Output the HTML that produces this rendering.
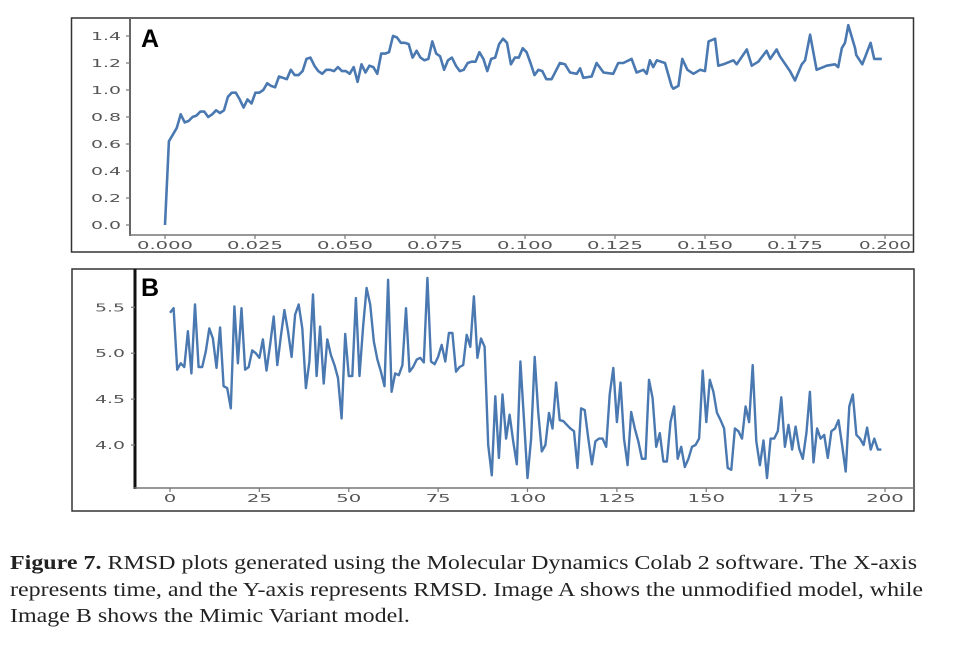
<!DOCTYPE html>
<html><head><meta charset="utf-8">
<style>
html,body{margin:0;padding:0;background:#fff;width:968px;height:666px;overflow:hidden}
#cap{position:absolute;left:10px;top:550px;width:900px;white-space:nowrap;font-family:"Liberation Serif",serif;font-size:20.5px;line-height:26.5px;color:#222;transform:scaleX(1.17);transform-origin:0 0}
</style></head><body>
<svg id="chart" width="968" height="540" style="position:absolute;left:0;top:0" xmlns="http://www.w3.org/2000/svg"></svg>
<div id="cap"><b>Figure 7.</b> RMSD plots generated using the Molecular Dynamics Colab 2 software. The X-axis<br>represents time, and the Y-axis represents RMSD. Image A shows the unmodified model, while<br>Image B shows the Mimic Variant model.</div>
<script>
// Panel A data
const rmsdA1 = [0.0,0.62,0.67,0.72,0.82,0.76,0.77,0.8,0.81,0.84,0.84,0.80,0.82,0.85,0.83,0.85,0.95,0.98,0.98,0.93,0.87,0.93,0.90,0.98,0.98,1.0,1.05,1.03,1.02,1.1,1.09,1.08,1.15,1.11,1.11,1.14,1.23,1.24,1.18,1.14,1.12,1.15,1.15,1.14,1.17,1.14,1.14,1.12,1.17,1.06,1.19,1.13,1.18,1.17,1.12,1.27,1.27,1.28,1.4,1.39,1.35,1.35,1.34,1.24,1.29,1.24,1.22,1.23,1.36,1.27,1.25,1.15,1.22,1.24,1.18,1.14,1.15,1.2,1.21,1.21,1.28,1.23,1.14,1.23,1.24,1.34,1.38,1.35,1.19,1.24,1.24,1.31,1.28,1.2,1.11,1.15,1.14,1.08,1.08];
const timeA1End = 0.107;
const timeA2 = [0.1074,0.1097,0.1111,0.1125,0.1144,0.1153,0.1162,0.1185,0.1199,0.1218,0.1245,0.1259,0.1273,0.1296,0.1310,0.1329,0.1338,0.1347,0.1356,0.1366,0.1389,0.1407,0.1412,0.1426,0.1437,0.1451,0.1468,0.1486,0.1500,0.1510,0.1528,0.1537,0.1551,0.1579,0.1588,0.1616,0.1630,0.1648,0.1671,0.1681,0.1699,0.1708,0.1736,0.1750,0.1769,0.1778,0.1792,0.1810,0.1838,0.1861,0.1870,0.1880,0.1889,0.1898,0.1917,0.1920,0.1937,0.1960,0.1970,0.1991];
const rmsdA2 = [1.08,1.2,1.19,1.13,1.12,1.16,1.09,1.10,1.2,1.13,1.12,1.2,1.20,1.23,1.13,1.15,1.12,1.22,1.17,1.22,1.20,1.03,1.01,1.03,1.23,1.15,1.12,1.15,1.14,1.36,1.38,1.18,1.19,1.22,1.19,1.30,1.18,1.21,1.29,1.23,1.30,1.25,1.14,1.07,1.19,1.22,1.41,1.15,1.18,1.19,1.17,1.31,1.35,1.48,1.31,1.26,1.19,1.35,1.23,1.23];
const ticksAx = [0,0.025,0.05,0.075,0.1,0.125,0.15,0.175,0.2];
const ticksAxLabels = ["0.000","0.025","0.050","0.075","0.100","0.125","0.150","0.175","0.200"];
const ticksAy = [0,0.2,0.4,0.6,0.8,1.0,1.2,1.4];
const ticksAyLabels = ["0.0","0.2","0.4","0.6","0.8","1.0","1.2","1.4"];
// Panel B data
const rmsdB = [5.44,5.49,4.82,4.89,4.85,5.24,4.78,5.53,4.85,4.85,5.02,5.27,5.16,4.84,5.28,4.64,4.62,4.40,5.51,4.89,5.49,4.82,4.85,5.03,5.0,4.95,5.15,4.81,5.09,5.4,4.87,5.18,5.47,5.24,4.96,5.42,5.53,5.27,4.62,4.91,5.64,4.75,5.29,4.67,5.15,4.98,4.87,4.73,4.29,5.21,4.75,4.75,5.6,4.75,5.29,5.71,5.53,5.13,4.93,4.8,4.64,5.8,4.58,4.78,4.76,4.87,5.49,4.8,4.85,4.93,4.95,4.9,5.82,4.91,4.88,4.96,5.09,4.91,5.22,5.22,4.8,4.85,4.87,5.2,5.07,5.62,4.95,5.16,5.07,4.0,3.67,4.53,3.86,4.55,4.07,4.33,4.04,3.79,4.91,4.29,3.64,4.07,4.96,4.36,3.93,4.0,4.35,4.18,4.68,4.27,4.26,4.22,4.18,4.15,3.75,4.4,4.38,4.07,3.79,4.04,4.07,4.07,3.98,4.55,4.84,4.25,4.68,4.07,3.78,4.36,4.18,4.04,3.85,3.85,4.71,4.51,3.98,4.13,3.82,3.82,4.25,4.42,3.85,3.98,3.76,3.85,3.98,4.0,4.07,4.81,4.25,4.71,4.58,4.35,4.27,4.18,3.75,3.73,4.18,4.15,4.07,4.42,4.25,4.87,4.04,3.78,4.05,3.64,4.07,4.07,4.15,4.52,3.98,4.22,3.95,4.2,3.96,3.85,4.13,4.58,3.81,4.18,4.07,4.11,3.86,4.15,4.18,4.27,4.0,3.71,4.42,4.55,4.11,4.07,4.0,4.19,3.95,4.07,3.95,3.95];
const ticksBx = [0,25,50,75,100,125,150,175,200];
const ticksBxLabels = ["0","25","50","75","100","125","150","175","200"];
const ticksBy = [4.0,4.5,5.0,5.5];
const ticksByLabels = ["4.0","4.5","5.0","5.5"];

const NS="http://www.w3.org/2000/svg";
const svg=document.getElementById('chart');
function mk(tag,attrs,parent){const e=document.createElementNS(NS,tag);for(const k in attrs)e.setAttribute(k,attrs[k]);(parent||svg).appendChild(e);return e;}

const xA=t=>165+t*3600, yA=v=>225-v*135;
const xB=i=>170+i*3.575, yB=v=>445-(v-4)*91.8;

let e;
e=mk('rect',{x:71.5,y:18,width:842,height:234,fill:'none',stroke:'#333','stroke-width':1.5});


e=mk('line',{x1:130,y1:18,x2:130,y2:236,stroke:'#666','stroke-width':2});


e=mk('line',{x1:129,y1:235,x2:913,y2:235,stroke:'#777','stroke-width':1.5});


ticksAx.forEach((t,i)=>{
  const x=xA(t);
  const tk=mk('line',{x1:x,y1:235,x2:x,y2:239,stroke:'#777','stroke-width':1.2});
  
  
  const tx=mk('text',{x:x,y:249,'text-anchor':'middle','font-family':'DejaVu Sans, sans-serif','font-size':11,fill:'#555',textLength:i==8?52:56,lengthAdjust:'spacingAndGlyphs'});
  tx.textContent=ticksAxLabels[i];
  
  
});
ticksAy.forEach((v,i)=>{
  const y=yA(v);
  const tk=mk('line',{x1:126,y1:y,x2:130,y2:y,stroke:'#777','stroke-width':1.2});
  
  
  const tx=mk('text',{x:121,y:y+4,'text-anchor':'end','font-family':'DejaVu Sans, sans-serif','font-size':11,fill:'#555',textLength:30,lengthAdjust:'spacingAndGlyphs'});
  tx.textContent=ticksAyLabels[i];
  
  
});
e=mk('text',{x:141,y:47,'font-family':'Liberation Sans, sans-serif','font-size':25,'font-weight':'bold',fill:'#000'});
e.textContent='A';


let ptsA=rmsdA1.map((v,i)=>xA(i*timeA1End/(rmsdA1.length-1)).toFixed(1)+','+yA(v).toFixed(1));
ptsA=ptsA.concat(rmsdA2.map((v,i)=>xA(timeA2[i]).toFixed(1)+','+yA(v).toFixed(1)));
e=mk('polyline',{points:ptsA.join(' '),fill:'none',stroke:'#4a78b0','stroke-width':2.6,'stroke-linejoin':'round'});



e=mk('rect',{x:72,y:269,width:842,height:242,fill:'none',stroke:'#333','stroke-width':1.5});


e=mk('line',{x1:135,y1:269,x2:135,y2:489,stroke:'#111','stroke-width':3});


e=mk('line',{x1:134,y1:488,x2:914,y2:488,stroke:'#777','stroke-width':1.5});


ticksBx.forEach((t,i)=>{
  const x=xB(t);
  const tk=mk('line',{x1:x,y1:488,x2:x,y2:492,stroke:'#777','stroke-width':1.2});
  
  
  const w=ticksBxLabels[i].length*12.5;
  const tx=mk('text',{x:x,y:502,'text-anchor':'middle','font-family':'DejaVu Sans, sans-serif','font-size':11,fill:'#555',textLength:w,lengthAdjust:'spacingAndGlyphs'});
  tx.textContent=ticksBxLabels[i];
  
  
});
ticksBy.forEach((v,i)=>{
  const y=yB(v);
  const tk=mk('line',{x1:131,y1:y,x2:135,y2:y,stroke:'#777','stroke-width':1.2});
  
  
  const tx=mk('text',{x:125,y:y+4,'text-anchor':'end','font-family':'DejaVu Sans, sans-serif','font-size':11,fill:'#555',textLength:30,lengthAdjust:'spacingAndGlyphs'});
  tx.textContent=ticksByLabels[i];
  
  
});
e=mk('text',{x:141,y:296,'font-family':'Liberation Sans, sans-serif','font-size':25,'font-weight':'bold',fill:'#000'});
e.textContent='B';


const ptsB=rmsdB.map((v,i)=>xB(i).toFixed(1)+','+yB(v).toFixed(1));
e=mk('polyline',{points:ptsB.join(' '),fill:'none',stroke:'#4a78b0','stroke-width':2.4,'stroke-linejoin':'round'});


</script>
</body></html>
